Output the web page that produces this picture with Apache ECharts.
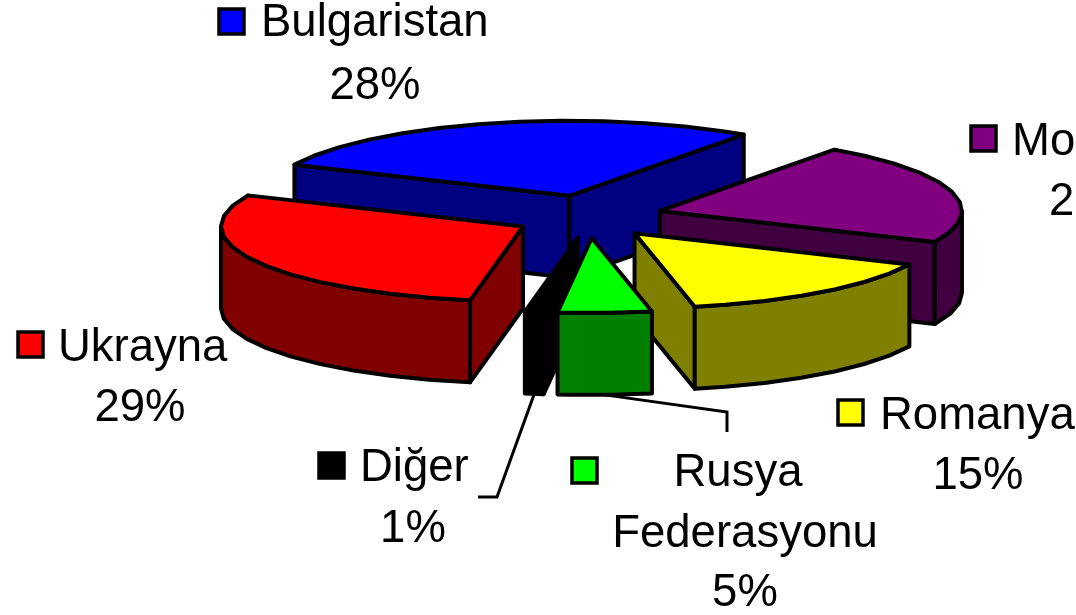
<!DOCTYPE html>
<html><head><meta charset="utf-8">
<style>html,body{margin:0;padding:0;background:#fff;overflow:hidden}#c{width:1076px;height:615px}</style>
<script src="https://cdn.jsdelivr.net/npm/echarts@6/dist/echarts.min.js"></script>
</head><body><div id="c"></div>
<script>
var categories = ['Bulgaristan','Moldova','Romanya','Rusya Federasyonu','Diğer','Ukrayna'];
var values = [28,22,15,5,1,29];
var topColors = ['#0000ff','#800080','#ffff00','#00ff00','#000000','#ff0000'];
var sideColors = ['#000080','#400040','#808000','#008000','#000000','#800000'];
var drawOrder = [0,1,5,2,4,3];

var pie = {cx:588.5, cy:216.5, rx:302, ry:75, depth:82, explode:74, explodeRatio:0.29, start:-65.5, step:8, stroke:4};
var font = '45.5px "Liberation Sans", Arial, sans-serif';
var labelBoxes = [
  {key:[219,9], lines:[['Bulgaristan',261,23,'left'],['28%',375,86,'center']]},
  {key:[971,126], lines:[['Moldova',1012,142,'left'],['22%',1049,202,'left']]},
  {key:[838,400], lines:[['Romanya',880,416,'left'],['15%',978,476,'center']]},
  {key:[572,458], lines:[['Rusya',738,473,'center'],['Federasyonu',745,534,'center'],['5%',745,593,'center']]},
  {key:[319,453], lines:[['Diğer',360,468,'left'],['1%',413,529,'center']]},
  {key:[18,332], lines:[['Ukrayna',58,348,'left'],['29%',140,408,'center']]}
];
var leaders = {3:{frac:0.5,via:[[727,412],[727,432]]},4:{frac:0.5,via:[[497,497],[478,497]]}};

var total = values.reduce(function(a,b){return a+b;},0);
var rad = Math.PI/180;
function rim(ax,ay,t){return [ax+pie.rx*Math.sin(t*rad), ay-pie.ry*Math.cos(t*rad)];}
function down(p){return [p[0],p[1]+pie.depth];}
function poly(points,fill){
  return {type:'polygon',shape:{points:points},style:{fill:fill,stroke:'#000',lineWidth:pie.stroke,lineJoin:'round'}};
}
function arcAngles(a,b){
  var out=[a], t=a+pie.step;
  while(t<b){out.push(t);t+=pie.step;}
  out.push(b);return out;
}
function renderSlice(params){
  var i=drawOrder[params.dataIndex], before=0;
  for(var j=0;j<i;j++)before+=values[j];
  var t1=pie.start+before/total*360, t2=t1+values[i]/total*360, mid=(t1+t2)/2;
  var ax=pie.cx+pie.explode*Math.sin(mid*rad), ay=pie.cy-pie.explode*pie.explodeRatio*Math.cos(mid*rad);
  var apex=[ax,ay], kids=[];
  function radial(t){var p=rim(ax,ay,t);return poly([apex,p,down(p),down(apex)],sideColors[i]);}
  if(Math.sin(t1*rad)<0)kids.push(radial(t1));
  if(Math.sin(t2*rad)>0)kids.push(radial(t2));
  var wa=Math.max(t1,90), wb=Math.min(t2,270);
  if(wa<wb){
    var tp=arcAngles(wa,wb).map(function(t){return rim(ax,ay,t);});
    kids.push(poly(tp.concat(tp.slice().reverse().map(down)),sideColors[i]));
  }
  var top=[apex].concat(arcAngles(t1,t2).map(function(t){return rim(ax,ay,t);}));
  kids.push(poly(top,topColors[i]));
  var lead=leaders[i];
  if(lead){
    var s=down(rim(ax,ay,t1+(t2-t1)*lead.frac));
    kids.unshift({type:'polyline',shape:{points:[s].concat(lead.via)},style:{fill:null,stroke:'#000',lineWidth:3}});
  }
  return {type:'group',children:kids};
}
var gfx=[];
labelBoxes.forEach(function(b,i){
  gfx.push({type:'rect',shape:{x:b.key[0],y:b.key[1],width:25,height:25},style:{fill:topColors[i],stroke:'#000',lineWidth:3.5},z:10});
  b.lines.forEach(function(l){
    gfx.push({type:'text',x:l[1],y:l[2],z:10,style:{text:l[0],font:font,fill:'#000',align:l[3],verticalAlign:'middle'}});
  });
});
var chart=echarts.init(document.getElementById('c'),null,{renderer:'canvas'});
chart.setOption({
  animation:false,backgroundColor:'#fff',
  series:[{type:'custom',coordinateSystem:'none',renderItem:renderSlice,clip:false,
    data:drawOrder.map(function(k){return {name:categories[k],value:values[k]};})}],
  graphic:{elements:gfx}
});
</script></body></html>
